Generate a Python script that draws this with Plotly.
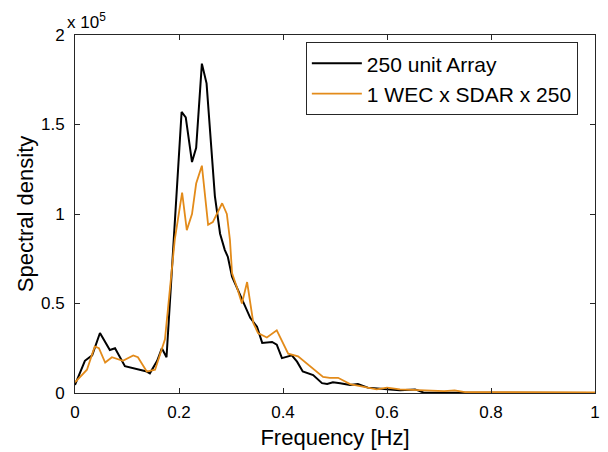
import plotly.graph_objects as go

# Frequency [Hz] and spectral density values
freq_array = [0.0, 0.019, 0.033, 0.048, 0.067, 0.077, 0.096, 0.138, 0.144, 0.158, 0.167,
              0.176, 0.205, 0.213, 0.225, 0.233, 0.244, 0.253, 0.269, 0.279, 0.288,
              0.294, 0.302, 0.313, 0.327, 0.337, 0.35, 0.36, 0.379, 0.388, 0.398,
              0.417, 0.427, 0.438, 0.458, 0.475, 0.485, 0.496, 0.51, 0.529, 0.544,
              0.563, 0.606, 0.625, 0.654, 0.67, 0.7, 0.8, 1.0]
dens_array = [4500, 18000, 21000, 33500, 24000, 25000, 15000, 12000, 11000, 18000, 25000,
              20000, 157000, 154000, 129000, 137000, 184000, 173000, 110000, 89000, 80000,
              76000, 65000, 57500, 48000, 42000, 37000, 28000, 28500, 27000, 19500,
              21000, 17500, 12000, 10000, 5500, 5000, 6000, 5500, 4500, 5000,
              3000, 2000, 1500, 2000, 300, 200, 100, 0]

freq_wec = [0.0, 0.023, 0.038, 0.046, 0.058, 0.071, 0.092, 0.112, 0.121, 0.138, 0.154,
            0.173, 0.192, 0.206, 0.215, 0.225, 0.233, 0.244, 0.256, 0.265, 0.283,
            0.292, 0.298, 0.302, 0.313, 0.321, 0.331, 0.337, 0.343, 0.352, 0.369,
            0.388, 0.41, 0.429, 0.477, 0.49, 0.506, 0.529, 0.58, 0.6, 0.625,
            0.71, 0.73, 0.75, 1.0]
dens_wec = [6000, 13000, 26000, 25000, 17000, 20000, 18000, 21000, 20000, 12000, 13000,
            30000, 86000, 112000, 91000, 100000, 117000, 127000, 94000, 95500, 106000,
            100000, 85500, 67000, 57500, 50000, 62000, 50000, 39000, 33500, 31000,
            35000, 22000, 20500, 9000, 8500, 8500, 5000, 2000, 3000, 2000,
            1000, 1500, 500, 300]

x_ticks = [0, 0.2, 0.4, 0.6, 0.8, 1]
x_ticktext = ["0", "0.2", "0.4", "0.6", "0.8", "1"]
y_ticks = [0, 50000, 100000, 150000, 200000]
y_ticktext = ["0", "0.5", "1", "1.5", "2"]

FONT = "Liberation Sans, Arial, sans-serif"
AXIS_COLOR = "#262626"

fig = go.Figure()
fig.add_trace(go.Scatter(x=freq_array, y=dens_array, mode="lines",
                         name="250 unit Array",
                         line=dict(color="black", width=2)))
fig.add_trace(go.Scatter(x=freq_wec, y=dens_wec, mode="lines",
                         name="1 WEC x SDAR x 250",
                         line=dict(color="#E38B1A", width=1.8)))

axis_common = dict(showline=True, mirror="ticks", linecolor=AXIS_COLOR, linewidth=1,
                   ticks="inside", ticklen=5, tickcolor=AXIS_COLOR, showgrid=False,
                   zeroline=False, automargin=False,
                   tickfont=dict(family=FONT, size=17, color="black"))

fig.update_xaxes(range=[0, 1], tickvals=x_ticks, ticktext=x_ticktext,
                 ticklabelstandoff=4,
                 title=dict(text="Frequency [Hz]", font=dict(family=FONT, size=22, color="black"),
                            standoff=8),
                 **axis_common)
fig.update_yaxes(range=[0, 200000], tickvals=y_ticks, ticktext=y_ticktext,
                 ticklabelstandoff=6,
                 title=dict(text="Spectral density", font=dict(family=FONT, size=22, color="black"),
                            standoff=1),
                 **axis_common)

fig.add_annotation(text="x 10<sup>5</sup>", xref="paper", yref="paper",
                   x=-0.02, y=1.004, xanchor="left", yanchor="bottom",
                   showarrow=False, font=dict(family=FONT, size=17, color="black"))

fig.update_layout(
    width=608, height=452,
    margin=dict(l=75, r=13, t=35, b=59),
    paper_bgcolor="white", plot_bgcolor="white",
    font=dict(family=FONT, color="black"),
    legend=dict(x=0.967, y=0.98, xanchor="right", yanchor="top",
                bordercolor=AXIS_COLOR, borderwidth=1, bgcolor="white",
                font=dict(family=FONT, size=21, color="black"),
                itemwidth=50, tracegroupgap=0),
    showlegend=True,
)

fig.write_html("out.html", config={"displayModeBar": False},
               post_script="document.body.style.margin='0px';")
